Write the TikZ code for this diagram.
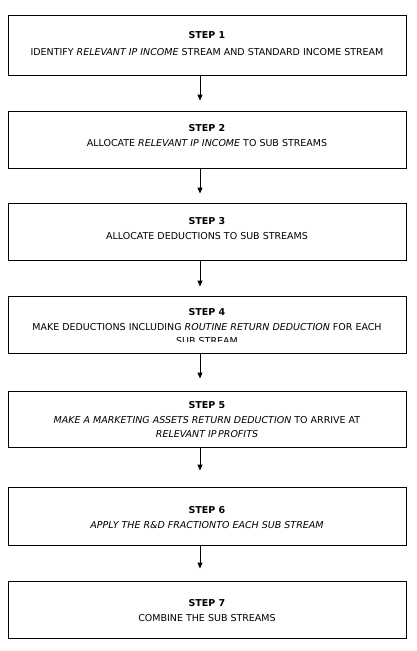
\documentclass[tikz,border=0pt]{standalone}
\usepackage{fontspec}
\setmainfont{DejaVu Sans}
\usetikzlibrary{arrows.meta}
\tikzset{
  stepbox/.style={draw=black, line width=1pt, minimum width=398pt, inner sep=0pt, fill=white},
  steptext/.style={align=center, anchor=north, inner sep=0pt, font=\fontsize{9.5}{15}\selectfont},
  flow/.style={draw=black, line width=1pt, -{Triangle[length=6pt,width=5pt]}}
}
\newcommand{\stephead}[1]{\textbf{STEP #1}}
\begin{document}
\begin{tikzpicture}[x=1pt,y=-1pt]
\useasboundingbox (0,0) rectangle (416,651);
\fill[white] (0,0) rectangle (416,651);
% boxes
\node[stepbox, minimum height=60pt] (b1) at (207,45) {};
\node[stepbox, minimum height=57pt] (b2) at (207,139.5) {};
\node[stepbox, minimum height=57pt] (b3) at (207,231.5) {};
\node[stepbox, minimum height=57pt] (b4) at (207,324.5) {};
\node[stepbox, minimum height=56pt] (b5) at (207,419) {};
\node[stepbox, minimum height=58pt] (b6) at (207,516) {};
\node[stepbox, minimum height=57pt] (b7) at (207,609.5) {};
% texts
\node[steptext, font=\fontsize{9.5}{17}\selectfont] (t1) at (207,31.5) {\stephead{1}\\IDENTIFY \textit{RELEVANT IP INCOME} STREAM AND STANDARD INCOME STREAM};
\node[steptext] (t2) at (207,124.5) {\stephead{2}\\ALLOCATE \textit{RELEVANT IP INCOME} TO SUB STREAMS};
\node[steptext] (t3) at (207,217.5) {\stephead{3}\\ALLOCATE DEDUCTIONS TO SUB STREAMS};
\begin{scope}
\clip (8,296) rectangle (406,341.5);
\node[steptext, font=\fontsize{9.5}{14.5}\selectfont] (t4) at (207,308.5) {\stephead{4}\\MAKE DEDUCTIONS INCLUDING \textit{ROUTINE RETURN DEDUCTION} FOR EACH\\SUB STREAM};
\end{scope}
\node[steptext, font=\fontsize{9.5}{14.5}\selectfont] (t5) at (207,401.5) {\stephead{5}\\\textit{MAKE A MARKETING ASSETS RETURN DEDUCTION} TO ARRIVE AT\\\textit{RELEVANT IP\,PROFITS}};
\node[steptext] (t6) at (207,506.5) {\stephead{6}\\\textit{APPLY THE R\&D FRACTIONTO EACH SUB STREAM}};
\node[steptext] (t7) at (207,599.5) {\stephead{7}\\COMBINE THE SUB STREAMS};
% connectors
\draw[flow] ([xshift=-7pt]b1.south) -- ([xshift=-7pt,yshift=10pt]b2.north);
\draw[flow] ([xshift=-7pt]b2.south) -- ([xshift=-7pt,yshift=9pt]b3.north);
\draw[flow] ([xshift=-7pt]b3.south) -- ([xshift=-7pt,yshift=9pt]b4.north);
\draw[flow] ([xshift=-7pt]b4.south) -- ([xshift=-7pt,yshift=12pt]b5.north);
\draw[flow] ([xshift=-7pt]b5.south) -- ([xshift=-7pt,yshift=16pt]b6.north);
\draw[flow] ([xshift=-7pt]b6.south) -- ([xshift=-7pt,yshift=12pt]b7.north);
\end{tikzpicture}
\end{document}
